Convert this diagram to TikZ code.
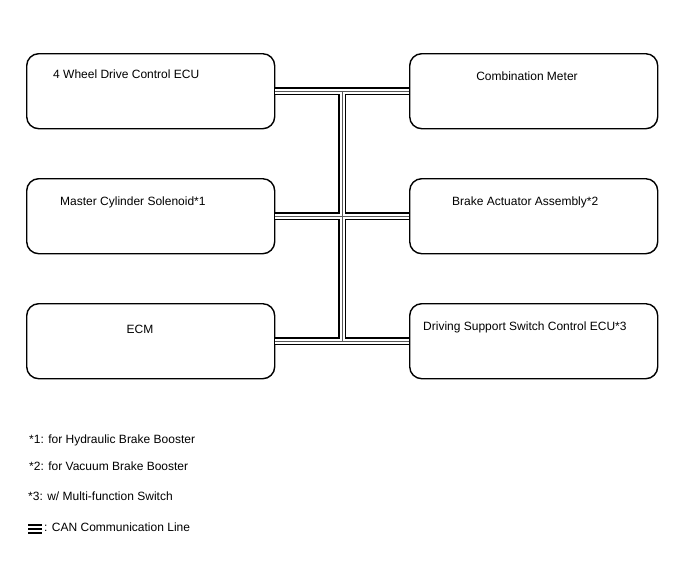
\documentclass[tikz,border=0pt]{standalone}
\usepackage{fontspec}
\setmainfont{Liberation Sans}
\usetikzlibrary{calc}
\begin{document}
\begin{tikzpicture}[x=1pt,y=-1pt,
  box/.style={draw, line width=1.4pt, rounded corners=12pt, minimum width=248pt, minimum height=75pt, anchor=north west, inner sep=0pt},
  lbl/.style={font=\fontsize{12}{14}\selectfont, inner sep=0pt, anchor=base west},
  busout/.style={line width=7.8pt, black},
  busin/.style={line width=4.8pt, white},
  busmid/.style={line width=1pt, black!65},
  leg/.style={line width=2pt}]
\useasboundingbox (0,0) rectangle (688,560);
% boxes
\node[box] (w4) at (26,53) {};
\node[box] (cm) at (409,53) {};
\node[box] (mc) at (26,178) {};
\node[box] (ba) at (409,178) {};
\node[box] (ecm) at (26,303) {};
\node[box] (ds) at (409,303) {};
% texts
\node[lbl] (tw4) at (53,78.5) {4 Wheel Drive Control ECU};
\node[lbl, anchor=base] (tcm) at (527,80.5) {Combination Meter};
\node[lbl] (tmc) at (60,205) {Master Cylinder Solenoid*1};
\node[lbl] (tba) at (452,205) {Brake Actuator Assembly*2};
\node[lbl, anchor=base] (tecm) at (140,333) {ECM};
\node[lbl] (tds) at (423,330.5) {Driving Support Switch Control ECU*3};
% bus junctions
\coordinate (jt) at ($(w4.east)!0.5!(cm.west)$);
\coordinate (jb) at ($(ecm.east)!0.5!(ds.west)$);
\foreach \st in {busout,busin,busmid}{
  \draw[\st] (w4.east) -- (cm.west);
  \draw[\st] (mc.east) -- (ba.west);
  \draw[\st] (ecm.east) -- (ds.west);
  \draw[\st] (jt) -- (jb);
}
% legend
\node[lbl] (n1) at (29,443) {*1: for Hydraulic Brake Booster};
\node[lbl] (n2) at (29,470.5) {*2: for Vacuum Brake Booster};
\node[lbl] (n3) at (28,500.5) {*3: w/ Multi-function Switch};
\node[lbl] (n4) at (44,531) {: CAN Communication Line};
\coordinate (ls) at (28,524.5);
\coordinate (le) at (42,524.5);
\foreach \dy in {0,4,8}{
  \draw[leg] ($(ls)+(0,\dy)$) -- ($(le)+(0,\dy)$);
}
\end{tikzpicture}
\end{document}
